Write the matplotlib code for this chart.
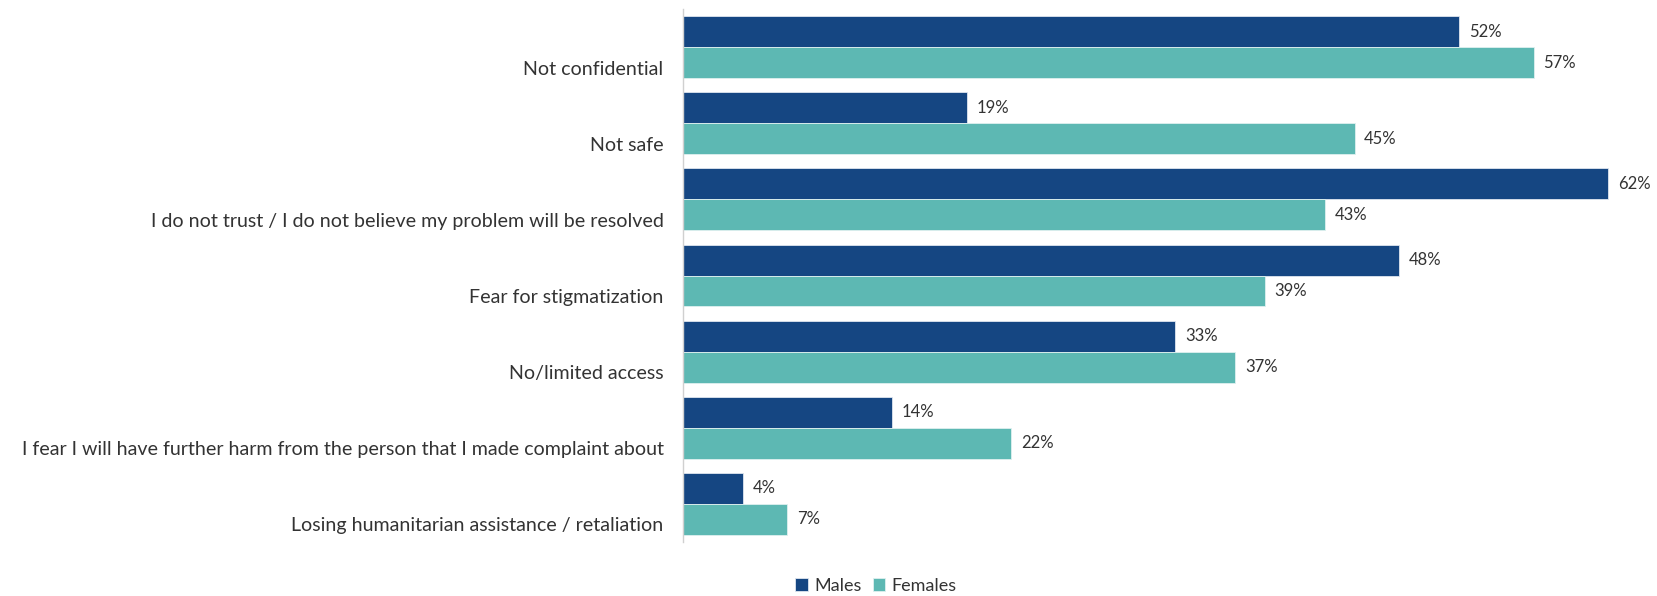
import matplotlib
matplotlib.use("Agg")
import matplotlib.pyplot as plt
from matplotlib.transforms import ScaledTranslation
import numpy as np

plt.rcParams["font.family"] = ["Lato", "DejaVu Sans"]

categories = [
    "Not confidential",
    "Not safe",
    "I do not trust / I do not believe my problem will be resolved",
    "Fear for stigmatization",
    "No/limited access",
    "I fear I will have further harm from the person that I made complaint about",
    "Losing humanitarian assistance / retaliation",
]
males = [52, 19, 62, 48, 33, 14, 4]
females = [57, 45, 43, 39, 37, 22, 7]

MALE_COLOR = "#154682"
FEMALE_COLOR = "#5db8b3"
TEXT_COLOR = "#333333"

fig = plt.figure(figsize=(16.57, 5.96), dpi=100)
ax = fig.add_axes([0.4122, 0.0906, 0.5854, 0.8943])

y = np.arange(len(categories))
h = 0.407
bm = ax.barh(y - h / 2, males, height=h, color=MALE_COLOR,
             edgecolor="#dfe6ef", linewidth=0.6, label="Males")
bf = ax.barh(y + h / 2, females, height=h, color=FEMALE_COLOR,
             edgecolor="#dff0ef", linewidth=0.6, label="Females")

for bars, vals in ((bm, males), (bf, females)):
    for b, v in zip(bars, vals):
        ax.text(v + 0.65, b.get_y() + b.get_height() / 2, f"{v}%",
                va="center", ha="left", fontsize=12, color=TEXT_COLOR,
                clip_on=False)

ax.set_xlim(0, 65)
ax.set_ylim(len(categories) - 0.5, -0.5)
ax.set_yticks(y)
ax.set_yticklabels(categories, fontsize=14.1, color=TEXT_COLOR)
ax.tick_params(axis="y", length=0, pad=14)
ax.set_xticks([])

# category labels sit a little below the pair centre
shift = ScaledTranslation(0, -0.205, fig.dpi_scale_trans)
for lbl in ax.get_yticklabels():
    lbl.set_transform(lbl.get_transform() + shift)

for side in ("top", "right", "bottom"):
    ax.spines[side].set_visible(False)
ax.spines["left"].set_color("#d0d0d0")
ax.spines["left"].set_linewidth(1.0)

fig.legend(handles=[bm, bf], labels=["Males", "Females"], loc="center",
           bbox_to_anchor=(876 / 1657, 1 - 586 / 596), ncol=2, frameon=False,
           fontsize=13, handlelength=0.7, handleheight=0.7,
           handletextpad=0.35, columnspacing=0.6, labelcolor=TEXT_COLOR)

fig.savefig("out.png", dpi=100)
